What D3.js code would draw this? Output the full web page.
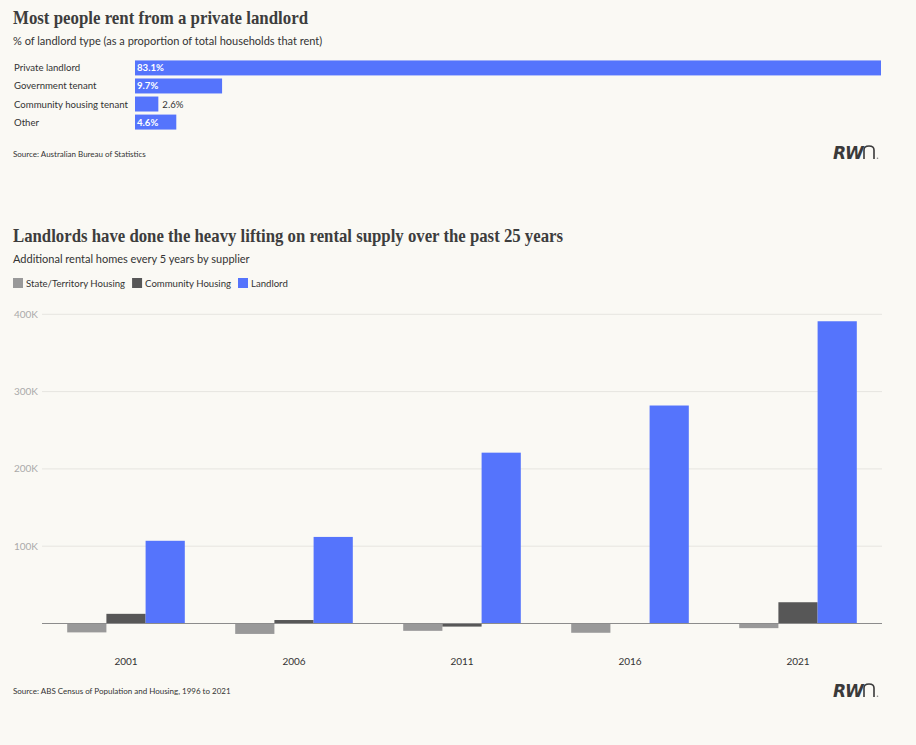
<!DOCTYPE html>
<html><head><meta charset="utf-8">
<script src="https://cdn.jsdelivr.net/npm/d3@7"></script>
<style>
body{margin:0;background:#faf9f4;}
svg{display:block;}
</style></head><body>
<svg id="c" width="916" height="745"></svg>
<script>
// Chart 1 data
const landlordTypes = ["Private landlord","Government tenant","Community housing tenant","Other"];
const landlordShares = [83.1, 9.7, 2.6, 4.6];
// Chart 2 data
const years = ["2001","2006","2011","2016","2021"];
const seriesNames = ["State/Territory Housing","Community Housing","Landlord"];
const stateHousing = [-11500, -13500, -9500, -12000, -6000];
const communityHousing = [12500, 4500, -4000, 0, 27500];
const landlordSupply = [107000, 112000, 221000, 282000, 391000];
const yTicks = [100000, 200000, 300000, 400000];

const svg = d3.select("#c");
const sans = "Lato, 'Open Sans', sans-serif";
const serif = "'Liberation Serif', 'DejaVu Serif', serif";
const blue = "#5574fc";
const colors = ["#999999", "#575757", blue];

function title(x, y, txt, len){
  svg.append("text").attr("x",x).attr("y",y).attr("font-family",serif).attr("font-weight","bold")
    .attr("font-size",19).attr("fill","#3d3d3d").attr("textLength",len).attr("lengthAdjust","spacingAndGlyphs").text(txt);
}

// ---- Chart 1 ----
title(13, 24, "Most people rent from a private landlord", 295);
svg.append("text").attr("x",13).attr("y",45).attr("font-family",sans).attr("font-size",11)
  .attr("fill","#333").text("% of landlord type (as a proportion of total households that rent)");

const x1 = d3.scaleLinear().domain([0, 83.1]).range([135, 881]);
const y1 = d3.scaleBand().domain(landlordTypes).range([59, 131]).paddingInner(0.17).paddingOuter(0.08);
const g1 = svg.append("g");
landlordTypes.forEach((t,i)=>{
  const v = landlordShares[i];
  const y = y1(t), h = y1.bandwidth();
  g1.append("text").attr("x",14).attr("y",y+h/2+3.5).attr("font-family",sans).attr("font-size",9.6)
    .attr("fill","#333").text(t);
  g1.append("rect").attr("x",x1(0)).attr("y",y).attr("width",x1(v)-x1(0)).attr("height",h).attr("fill",blue);
  const w = x1(v)-x1(0);
  const inside = w > 30;
  g1.append("text").attr("x", inside ? x1(0)+2 : x1(v)+4).attr("y",y+h/2+3.5)
    .attr("font-family",sans).attr("font-size",9.6).attr("font-weight", inside?"bold":"normal")
    .attr("fill", inside ? "#fff" : "#333").text(v.toFixed(1)+"%");
});
svg.append("text").attr("x",13).attr("y",157).attr("font-family",sans).attr("font-size",8)
  .attr("fill","#333").text("Source: Australian Bureau of Statistics");

function logo(x,y){
  const g = svg.append("g");
  g.append("text").attr("x",x).attr("y",y).attr("font-family","'DejaVu Sans', sans-serif").attr("font-weight","bold")
    .attr("font-style","italic").attr("font-size",17).attr("fill","#3a3a3a").attr("letter-spacing","-1").text("RW");
  g.append("path").attr("d",`M${x+31},${y} V${y-9} Q${x+31},${y-13} ${x+36},${y-13} Q${x+41},${y-13} ${x+41},${y-9} V${y}`)
    .attr("fill","none").attr("stroke","#3a3a3a").attr("stroke-width",1.6);
  g.append("circle").attr("cx",x+44.5).attr("cy",y-0.7).attr("r",0.8).attr("fill","#888");
}
logo(833,159);

// ---- Chart 2 ----
title(13, 242, "Landlords have done the heavy lifting on rental supply over the past 25 years", 550);
svg.append("text").attr("x",13).attr("y",263).attr("font-family",sans).attr("font-size",11)
  .attr("fill","#333").text("Additional rental homes every 5 years by supplier");

// legend
let lx = 13;
seriesNames.forEach((n,i)=>{
  svg.append("rect").attr("x",lx).attr("y",278).attr("width",10).attr("height",10).attr("fill",colors[i]);
  const t = svg.append("text").attr("x",lx+13).attr("y",286.5).attr("font-family",sans).attr("font-size",9.6)
    .attr("fill","#333").text(n);
  lx += 13 + t.node().getComputedTextLength() + 7;
});

const x0 = d3.scaleBand().domain(years).range([42, 882]).paddingInner(0.3).paddingOuter(0.15);
const xs = d3.scaleBand().domain(seriesNames).range([0, x0.bandwidth()]);
const y2 = d3.scaleLinear().domain([0, 400000]).range([623.5, 314.3]);

// grid
const grid = svg.append("g");
yTicks.forEach(t=>{
  grid.append("line").attr("x1",42).attr("x2",882).attr("y1",y2(t)).attr("y2",y2(t))
    .attr("stroke","#e6e5e0").attr("stroke-width",1);
  grid.append("text").attr("x",38).attr("y",y2(t)+3.5).attr("text-anchor","end").attr("font-family",sans)
    .attr("font-size",10).attr("fill","#aaa").text(d3.format("~s")(t).replace("k","K"));
});

const seriesData = [stateHousing, communityHousing, landlordSupply];
const bars = svg.append("g");
years.forEach((yr,i)=>{
  seriesNames.forEach((s,j)=>{
    const v = seriesData[j][i];
    if (v === 0) return;
    bars.append("rect").attr("x",x0(yr)+xs(s)).attr("width",xs.bandwidth())
      .attr("y",Math.min(y2(v),y2(0))).attr("height",Math.abs(y2(v)-y2(0))).attr("fill",colors[j]);
  });
});
// zero line
svg.append("line").attr("x1",42).attr("x2",882).attr("y1",y2(0)).attr("y2",y2(0))
  .attr("stroke","#8c8c8c").attr("stroke-width",1);

// x axis labels
const xAxis = svg.append("g").attr("transform","translate(0,"+665+")")
  .call(d3.axisBottom(x0).tickSize(0).tickPadding(0));
xAxis.select(".domain").remove();
xAxis.selectAll("text").attr("font-family",sans).attr("font-size",10).attr("fill","#333").attr("dy","0");

svg.append("text").attr("x",13).attr("y",694).attr("font-family",sans).attr("font-size",8)
  .attr("fill","#333").text("Source: ABS Census of Population and Housing, 1996 to 2021");
logo(833,697);
</script>
</body></html>
